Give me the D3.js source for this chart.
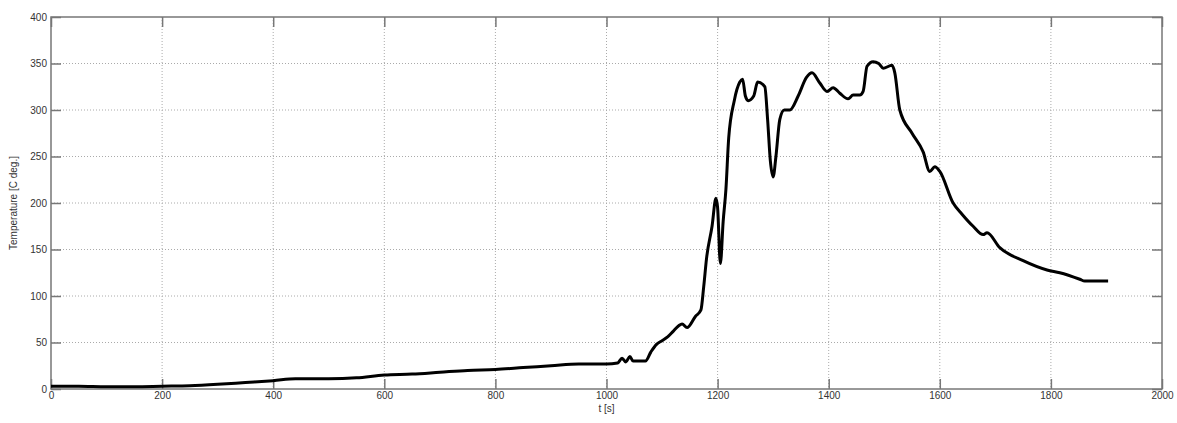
<!DOCTYPE html>
<html>
<head>
<meta charset="utf-8">
<script src="https://cdn.jsdelivr.net/npm/d3@7"></script>
<style>
  body { margin: 0; background: #fff; }
  .tick text { font-family: "Liberation Sans", Arial, sans-serif; font-size: 10px; fill: #333; }
</style>
</head>
<body>
<div class="canvas"></div>
<script>
// data
const times = [0, 50, 100, 150, 200, 250, 300, 350, 400, 440, 500, 550, 600, 650, 700, 750, 800, 850, 900, 950, 1000, 1020,
  1028, 1035, 1042, 1048, 1055, 1070, 1080, 1090, 1100, 1110, 1120, 1130, 1136, 1145, 1160, 1170, 1175, 1180, 1190, 1197,
  1200, 1205, 1210, 1215, 1220, 1230, 1240, 1245, 1250, 1255, 1265, 1272, 1285, 1290, 1295, 1300, 1305, 1312, 1320, 1330,
  1345, 1360, 1370, 1384, 1397, 1408, 1420, 1435, 1444, 1456, 1462, 1469, 1480, 1490, 1498, 1514, 1519, 1528, 1550, 1570,
  1582, 1591, 1600, 1624, 1640, 1660, 1678, 1685, 1708, 1750, 1793, 1816, 1852, 1861, 1903];
const temps = [3, 3, 2.5, 2.5, 3, 3.5, 5, 7, 9, 11, 11, 12, 15, 16, 18, 20, 21, 23, 25, 27, 27, 28,
  33, 29, 35, 30, 30, 30, 40, 48, 52, 56, 62, 68, 70, 66, 78, 85, 110, 140, 175, 205,
  195, 135, 180, 215, 270, 310, 330, 333, 315, 310, 315, 330, 325, 290, 245, 228, 250, 290, 300, 300,
  315, 335, 340, 329, 320, 324, 318, 312, 316, 316, 320, 347, 352, 350, 345, 348, 340, 300, 275, 255,
  234, 239, 234, 200, 188, 175, 166, 168, 152, 138, 128, 125, 118, 116, 116];
const xTicks = [0, 200, 400, 600, 800, 1000, 1200, 1400, 1600, 1800, 2000];
const yTicks = [0, 50, 100, 150, 200, 250, 300, 350, 400];

const data = times.map((t, i) => ({ t, v: temps[i] }));

const width = 1177, height = 423;
const margin = { top: 17, right: 15, bottom: 34, left: 51 };
const graphWidth = width - margin.left - margin.right;
const graphHeight = height - margin.top - margin.bottom;

const svg = d3.select('.canvas')
    .append('svg')
    .attr('width', width)
    .attr('height', height);

const graph = svg.append('g')
    .attr('transform', `translate(${margin.left}, ${margin.top})`);

// scales
const x = d3.scaleLinear().domain([0, 2000]).range([0, graphWidth]);
const y = d3.scaleLinear().domain([0, 400]).range([graphHeight, 0]);

// dotted grid
graph.append('g')
    .selectAll('line.gx')
    .data(xTicks.slice(1, -1))
    .enter().append('line')
    .attr('x1', d => x(d)).attr('x2', d => x(d))
    .attr('y1', 0).attr('y2', graphHeight)
    .attr('stroke', '#aaa').attr('stroke-width', 1)
    .attr('stroke-dasharray', '1,2');

graph.append('g')
    .selectAll('line.gy')
    .data(yTicks.slice(1, -1))
    .enter().append('line')
    .attr('x1', 0).attr('x2', graphWidth)
    .attr('y1', d => y(d)).attr('y2', d => y(d))
    .attr('stroke', '#aaa').attr('stroke-width', 1)
    .attr('stroke-dasharray', '1,2');

// axes with inward ticks (on all four sides)
const styleAxis = g => {
    g.select('.domain').remove();
    g.selectAll('.tick line').attr('stroke', '#777').attr('stroke-width', 1.5);
};

graph.append('g')
    .attr('transform', `translate(0, ${graphHeight})`)
    .call(d3.axisBottom(x).tickValues(xTicks).tickSize(-10).tickPadding(3).tickFormat(d3.format('d')))
    .call(styleAxis);

graph.append('g')
    .call(d3.axisTop(x).tickValues(xTicks).tickSize(-10).tickFormat(''))
    .call(styleAxis);

graph.append('g')
    .call(d3.axisLeft(y).tickValues(yTicks).tickSize(-10).tickPadding(4))
    .call(styleAxis);

graph.append('g')
    .attr('transform', `translate(${graphWidth}, 0)`)
    .call(d3.axisRight(y).tickValues(yTicks).tickSize(-10).tickFormat(''))
    .call(styleAxis);

// frame
graph.append('rect')
    .attr('width', graphWidth)
    .attr('height', graphHeight)
    .attr('fill', 'none')
    .attr('stroke', '#777')
    .attr('stroke-width', 1.5);

// the curve
const line = d3.line()
    .x(d => x(d.t))
    .y(d => y(d.v))
    .curve(d3.curveMonotoneX);

graph.append('path')
    .datum(data)
    .attr('d', line)
    .attr('fill', 'none')
    .attr('stroke', '#000')
    .attr('stroke-width', 3)
    .attr('stroke-linejoin', 'round');

// axis labels
svg.append('text')
    .attr('x', margin.left + x(1000))
    .attr('y', 412)
    .attr('text-anchor', 'middle')
    .style('font-family', '"Liberation Sans", Arial, sans-serif')
    .style('font-size', '10px')
    .attr('fill', '#333')
    .text('t [s]');

svg.append('text')
    .attr('transform', `translate(17, ${margin.top + graphHeight / 2}) rotate(-90)`)
    .attr('text-anchor', 'middle')
    .style('font-family', '"Liberation Sans", Arial, sans-serif')
    .style('font-size', '10px')
    .attr('fill', '#333')
    .text('Temperature [C deg.]');
</script>
</body>
</html>
